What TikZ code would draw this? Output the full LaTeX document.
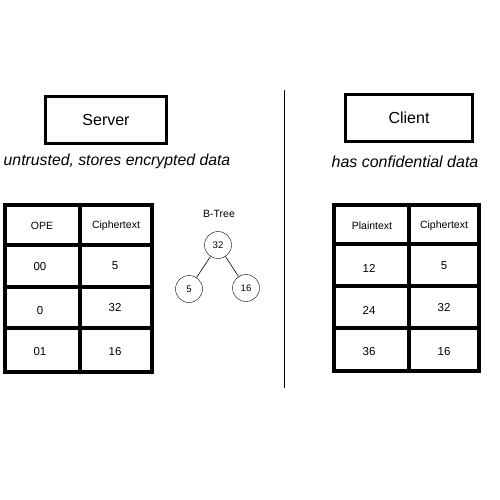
\documentclass[tikz,border=0pt]{standalone}
\usepackage{fontspec}
\setmainfont{Liberation Sans}
\begin{document}
\begin{tikzpicture}[x=1pt,y=-1pt,
  box/.style={draw,line width=3pt},
  tbl/.style={draw,line width=4pt},
  circ/.style={draw,circle,minimum size=27pt,inner sep=0pt,font=\fontsize{9.5}{10}\selectfont},
  cell/.style={font=\fontsize{11.5}{12}\selectfont},
  hdr/.style={font=\fontsize{10.5}{11}\selectfont}]
\useasboundingbox (0,0) rectangle (500,500);
% Server
\node[box,minimum width=121pt,minimum height=47pt,font=\fontsize{16}{18}\selectfont] (server) at (106,120) {Server};
\node[font=\fontsize{15.8}{18}\itshape\selectfont] (srvsub) at (117,161) {untrusted, stores encrypted data};
% Client
\node[box,minimum width=127pt,minimum height=47pt,font=\fontsize{16}{18}\selectfont] (client) at (409,118) {Client};
\node[font=\fontsize{16}{18}\itshape\selectfont] (clisub) at (405,162) {has confidential data};
% divider
\coordinate (d1) at (284,90);
\coordinate (d2) at (284,388);
\draw[line width=1pt] (d1) -- (d2);
% left table
\draw[tbl] (5,205) rectangle (152,372);
\draw[tbl] (80,205) -- (80,372);
\draw[tbl] (5,245) -- (152,245);
\draw[tbl] (5,287) -- (152,287);
\draw[tbl] (5,328) -- (152,328);
\node[hdr] (lh1) at (42,226) {OPE};
\node[hdr] (lh2) at (116,226) {Ciphertext};
\node[cell] (l11) at (40,267) {00};
\node[cell] (l12) at (115,266) {5};
\node[cell] (l21) at (40,311) {0};
\node[cell] (l22) at (115,308) {32};
\node[cell] (l31) at (40,352) {01};
\node[cell] (l32) at (115,352) {16};
% right table
\draw[tbl] (334,205) rectangle (479,371);
\draw[tbl] (409,205) -- (409,371);
\draw[tbl] (334,244) -- (479,244);
\draw[tbl] (334,286) -- (479,286);
\draw[tbl] (334,328) -- (479,328);
\node[hdr] (rh1) at (372,226) {Plaintext};
\node[hdr] (rh2) at (444,226) {Ciphertext};
\node[cell] (r11) at (369,268) {12};
\node[cell] (r12) at (444,266) {5};
\node[cell] (r21) at (369,310) {24};
\node[cell] (r22) at (444,308) {32};
\node[cell] (r31) at (369,352) {36};
\node[cell] (r32) at (444,352) {16};
% B-tree
\node[hdr] (bt) at (219,214) {B-Tree};
\node[circ] (n32) at (218,245) {32};
\node[circ] (n5) at (189,289) {5};
\node[circ] (n16) at (246,288) {16};
\draw[line width=0.6pt] (n32) -- (n5);
\draw[line width=0.6pt] (n32) -- (n16);
\end{tikzpicture}
\end{document}
